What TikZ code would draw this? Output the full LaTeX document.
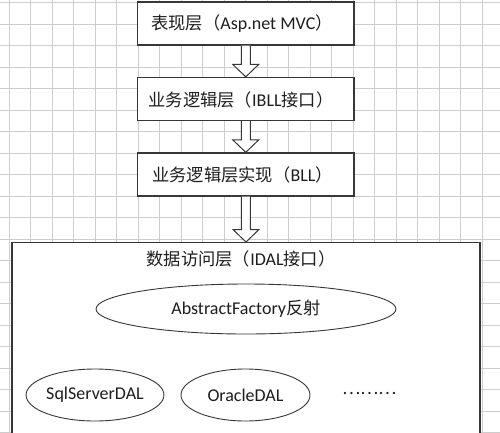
\documentclass[tikz,border=0pt]{standalone}
\usepackage{fontspec}
\setmainfont{Carlito}
\newfontfamily\cjk[Scale=0.96]{Noto Sans CJK SC}
\usetikzlibrary{calc,shapes.geometric}
\definecolor{gridc}{RGB}{205,205,205}
\definecolor{edgec}{RGB}{55,55,55}
\definecolor{txtc}{RGB}{30,30,30}
\begin{document}
\begin{tikzpicture}[x=1pt,y=-1pt,
  layerbox/.style={draw=edgec, line width=1.3pt, fill=white, minimum width=216.5pt, minimum height=43pt, inner sep=0pt},
  lbl/.style={font=\fontsize{18}{21}\selectfont, text=txtc, inner sep=0pt},
  oval/.style={ellipse, draw=edgec, line width=0.9pt, fill=white, inner sep=0pt, font=\fontsize{18}{21}\selectfont, text=txtc},
  blockarrow/.style={draw=edgec, line width=1pt, fill=white, line join=miter},
  gridline/.style={draw=gridc, line width=0.7pt}]
\useasboundingbox (0,0) rectangle (500,432);
\clip (0,0) rectangle (500,432);
\fill[white] (0,0) rectangle (500,432);
% grid
\foreach \i in {0,...,22} \draw[gridline] (9.3+21.5*\i,0) -- (9.3+21.5*\i,432);
\foreach \j in {0,...,20} \draw[gridline] (0,2.5+21.5*\j) -- (500,2.5+21.5*\j);
% layer boxes
\node[layerbox] (b1) at (245.75,23.5) {};
\node[layerbox] (b2) at (245.75,99) {};
\node[layerbox] (b3) at (245.75,174.5) {};
\node[layerbox, minimum width=468pt, minimum height=220pt, anchor=north] (dal) at (246,242) {};
% labels
\node[lbl] (t1) at (242,24) {{\cjk 表现层（}Asp.net MVC{\cjk ）}};
\node[lbl] (t2) at (241,99.5) {{\cjk 业务逻辑层（}IBLL{\cjk 接口）}};
\node[lbl] (t3) at (242.5,175) {{\cjk 业务逻辑层实现（}BLL{\cjk ）}};
\node[lbl] (t4) at (241,259) {{\cjk 数据访问层（}IDAL{\cjk 接口）}};
% ellipses
\node[oval, minimum width=300pt, minimum height=50pt] (af) at (246,309) {AbstractFactory{\cjk 反射}};
\node[oval, minimum width=128pt, minimum height=52pt] (sql) at (95,395) {SqlServerDAL};
\node[oval, minimum width=129pt, minimum height=52pt] (ora) at (245.5,395) {OracleDAL};
\node[lbl] (more) at (369.5,394) {{\cjk ………}};
% block arrows
\foreach \a/\b in {b1/b2, b2/b3, b3/dal}
  \draw[blockarrow] ($(\a.south)+(-4.5,0)$) -- ($(\b.north)+(-4.5,-12.5)$) -- ($(\b.north)+(-13,-12.5)$) -- (\b.north) -- ($(\b.north)+(13,-12.5)$) -- ($(\b.north)+(4.5,-12.5)$) -- ($(\a.south)+(4.5,0)$);
\end{tikzpicture}
\end{document}
